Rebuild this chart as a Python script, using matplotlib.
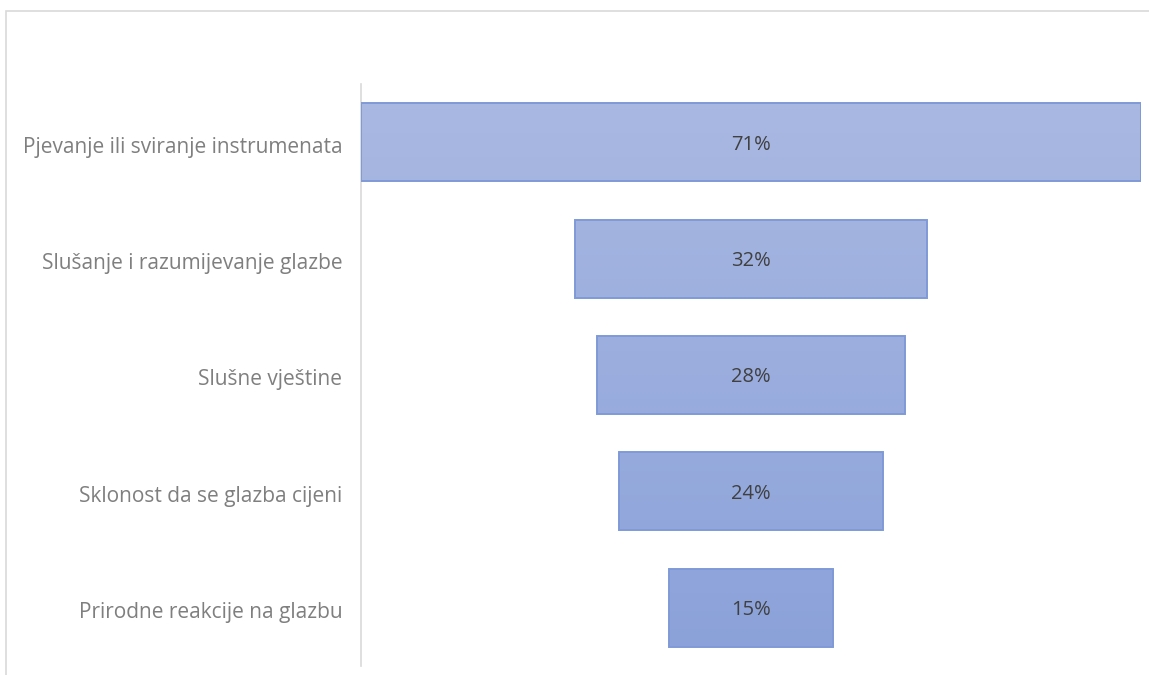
import matplotlib
matplotlib.use("Agg")
import matplotlib.pyplot as plt
import numpy as np
from matplotlib.patches import Rectangle
from matplotlib.colors import LinearSegmentedColormap

categories = ["Pjevanje ili sviranje instrumenata",
              "Slušanje i razumijevanje glazbe",
              "Slušne vještine",
              "Sklonost da se glazba cijeni",
              "Prirodne reakcije na glazbu"]
values = [71, 32, 28, 24, 15]
value_labels = ["71%", "32%", "28%", "24%", "15%"]

W, H = 1149, 675
fig = plt.figure(figsize=(W / 100, H / 100), dpi=100)
fig.patch.set_facecolor("white")

# outer chart frame (extends beyond right/bottom edge)
frame = Rectangle((6 / W, 0 - 0.01), 2.0, (H - 11) / H + 0.01, transform=fig.transFigure,
                  fill=False, edgecolor="#D9D9D9", linewidth=1.2, zorder=0)
fig.patches.append(frame)

ax_l, ax_r, ax_t, ax_b = 361, 1141, 84, 666
ax = fig.add_axes([ax_l / W, 1 - ax_b / H, (ax_r - ax_l) / W, (ax_b - ax_t) / H])
ax.set_facecolor("none")

half = max(values) / 2
ax.set_xlim(-half, half)
ax.set_ylim(len(values) - 0.5, -0.5)

cmap = LinearSegmentedColormap.from_list("g", ["#AAB9E2", "#8AA1D9"])
grad = np.linspace(0, 1, 256).reshape(-1, 1)

bar_h = 0.67
y = np.arange(len(values))
bars = ax.barh(y, values, left=[-v / 2 for v in values], height=bar_h,
               color="none", edgecolor="#7F9AD6", linewidth=1.4, zorder=3)
for b in bars:
    im = ax.imshow(grad, cmap=cmap, aspect="auto",
                   extent=(-half, half, len(values) - 0.5, -0.5),
                   origin="upper", zorder=2, interpolation="bilinear")
    im.set_clip_path(b)

for yi, lab in zip(y, value_labels):
    ax.text(0, yi + 0.02, lab, ha="center", va="center", fontsize=14.5,
            color="#404040", family="Open Sans", zorder=4)

ax.set_yticks(y + 0.02)
ax.set_yticklabels(categories, fontsize=15, color="#7F7F7F", family="Open Sans")
ax.tick_params(axis="y", length=0, pad=13.5)
ax.set_xticks([])
for s in ["top", "right", "bottom"]:
    ax.spines[s].set_visible(False)
ax.spines["left"].set_color("#D9D9D9")
ax.spines["left"].set_linewidth(1.2)

fig.savefig("out.png", dpi=100, facecolor="white")
